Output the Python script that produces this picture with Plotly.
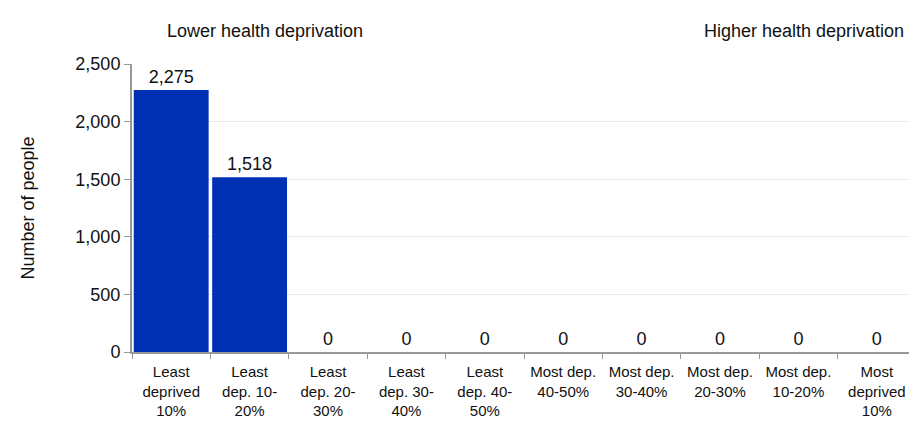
import plotly.graph_objects as go

categories = ["Least<br>deprived<br>10%", "Least<br>dep. 10-<br>20%", "Least<br>dep. 20-<br>30%",
              "Least<br>dep. 30-<br>40%", "Least<br>dep. 40-<br>50%", "Most dep.<br>40-50%",
              "Most dep.<br>30-40%", "Most dep.<br>20-30%", "Most dep.<br>10-20%", "Most<br>deprived<br>10%"]
values = [2275, 1518, 0, 0, 0, 0, 0, 0, 0, 0]
y_ticks = [0, 500, 1000, 1500, 2000, 2500]

font = "Liberation Sans, Arial, sans-serif"

fig = go.Figure(go.Bar(
    x=categories, y=values,
    marker=dict(color="#0031B4", line=dict(width=0)),
    text=[f"{v:,}" for v in values], textposition="outside",
    textfont=dict(size=18, color="#111111", family=font),
    cliponaxis=False,
))

fig.update_layout(
    width=909, height=418,
    margin=dict(l=124, r=1, t=56, b=74),
    paper_bgcolor="white", plot_bgcolor="white",
    bargap=0.045, showlegend=False,
    font=dict(family=font, color="#111111"),
    xaxis=dict(tickson="boundaries", ticks="outside", ticklen=5, tickcolor="#999999",
               showline=True, linecolor="#999999", linewidth=2,
               tickfont=dict(size=15), showgrid=False, ticklabelstandoff=5),
    yaxis=dict(range=[0, 2500], tickvals=y_ticks, tickformat=",", ticks="outside",
               ticklen=6, tickcolor="#999999", showline=True, linecolor="#999999", linewidth=2,
               gridcolor="#EBEBEB", gridwidth=1, tickfont=dict(size=18),
               title=dict(text="Number of people", font=dict(size=18), standoff=36),
               zeroline=False),
    annotations=[
        dict(text="Lower health deprivation", xref="paper", yref="paper", x=0.17, y=1.115,
             xanchor="center", yanchor="middle", showarrow=False, font=dict(size=18)),
        dict(text="Higher health deprivation", xref="paper", yref="paper", x=0.987, y=1.115,
             xanchor="right", yanchor="middle", showarrow=False, font=dict(size=18)),
    ],
)

fig.write_html("out.html")
